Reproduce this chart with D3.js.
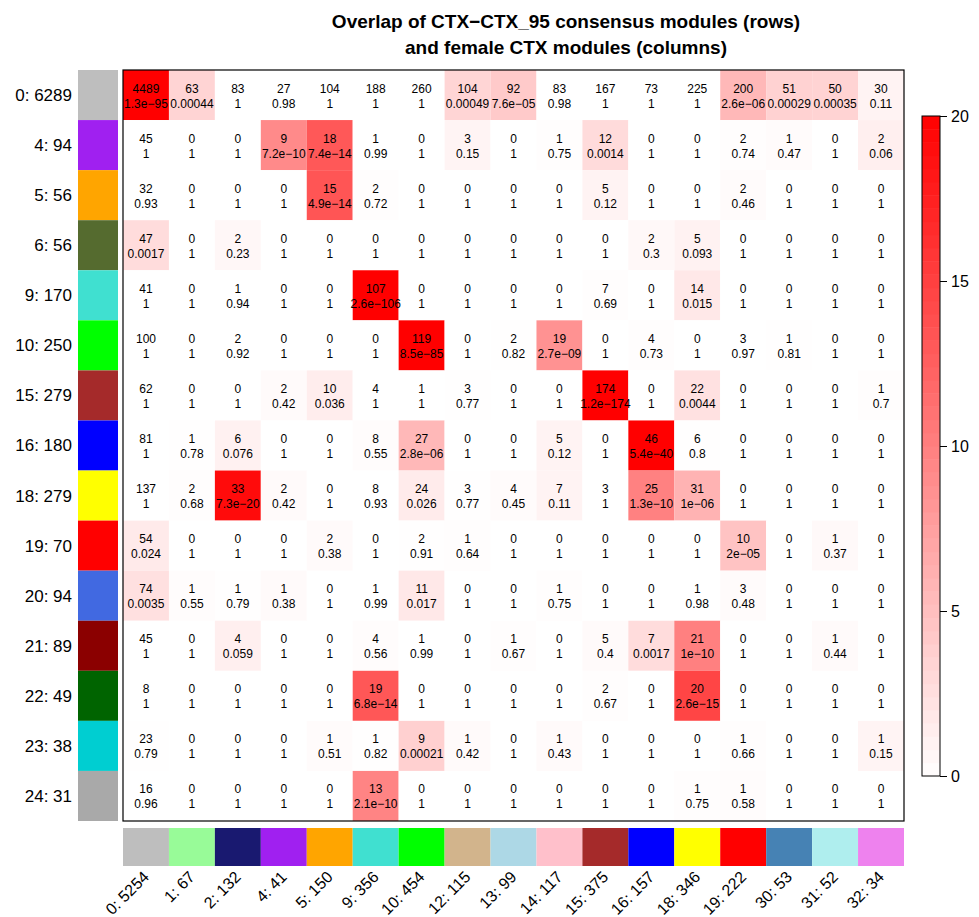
<!DOCTYPE html>
<html>
<head>
<meta charset="utf-8">
<script src="https://cdn.jsdelivr.net/npm/d3@7"></script>
<style>
  html, body { margin: 0; padding: 0; background: #fff; }
  svg { display: block; font-family: "Liberation Sans", Arial, sans-serif; }
</style>
</head>
<body>
<svg id="chart" width="979" height="917"></svg>
<script>
// Consensus modules (rows) and female CTX modules (columns)
const rowLabels = ["0: 6289", "4: 94", "5: 56", "6: 56", "9: 170", "10: 250", "15: 279", "16: 180",
  "18: 279", "19: 70", "20: 94", "21: 89", "22: 49", "23: 38", "24: 31"];
const rowColors = ["#BEBEBE", "#A020F0", "#FFA500", "#556B2F", "#40E0D0", "#00FF00", "#A52A2A", "#0000FF",
  "#FFFF00", "#FF0000", "#4169E1", "#8B0000", "#006400", "#00CED1", "#A9A9A9"];

const colLabels = ["0: 5254", "1: 67", "2: 132", "4: 41", "5: 150", "9: 356", "10: 454", "12: 115",
  "13: 99", "14: 117", "15: 375", "16: 157", "18: 346", "19: 222", "30: 53", "31: 52", "32: 34"];
const colColors = ["#BEBEBE", "#98FB98", "#191970", "#A020F0", "#FFA500", "#40E0D0", "#00FF00", "#D2B48C",
  "#ADD8E6", "#FFC0CB", "#A52A2A", "#0000FF", "#FFFF00", "#FF0000", "#4682B4", "#AFEEEE", "#EE82EE"];

// Overlap counts
const counts = [
  [4489, 63, 83, 27, 104, 188, 260, 104, 92, 83, 167, 73, 225, 200, 51, 50, 30],
  [45, 0, 0, 9, 18, 1, 0, 3, 0, 1, 12, 0, 0, 2, 1, 0, 2],
  [32, 0, 0, 0, 15, 2, 0, 0, 0, 0, 5, 0, 0, 2, 0, 0, 0],
  [47, 0, 2, 0, 0, 0, 0, 0, 0, 0, 0, 2, 5, 0, 0, 0, 0],
  [41, 0, 1, 0, 0, 107, 0, 0, 0, 0, 7, 0, 14, 0, 0, 0, 0],
  [100, 0, 2, 0, 0, 0, 119, 0, 2, 19, 0, 4, 0, 3, 1, 0, 0],
  [62, 0, 0, 2, 10, 4, 1, 3, 0, 0, 174, 0, 22, 0, 0, 0, 1],
  [81, 1, 6, 0, 0, 8, 27, 0, 0, 5, 0, 46, 6, 0, 0, 0, 0],
  [137, 2, 33, 2, 0, 8, 24, 3, 4, 7, 3, 25, 31, 0, 0, 0, 0],
  [54, 0, 0, 0, 2, 0, 2, 1, 0, 0, 0, 0, 0, 10, 0, 1, 0],
  [74, 1, 1, 1, 0, 1, 11, 0, 0, 1, 0, 0, 1, 3, 0, 0, 0],
  [45, 0, 4, 0, 0, 4, 1, 0, 1, 0, 5, 7, 21, 0, 0, 1, 0],
  [8, 0, 0, 0, 0, 19, 0, 0, 0, 0, 2, 0, 20, 0, 0, 0, 0],
  [23, 0, 0, 0, 1, 1, 9, 1, 0, 1, 0, 0, 0, 1, 0, 0, 1],
  [16, 0, 0, 0, 0, 13, 0, 0, 0, 0, 0, 0, 1, 1, 0, 0, 0]
];

// Fisher exact test p-values
const pValues = [
  [1.3e-95, 0.00044, 1, 0.98, 1, 1, 1, 0.00049, 7.6e-05, 0.98, 1, 1, 1, 2.6e-06, 0.00029, 0.00035, 0.11],
  [1, 1, 1, 7.2e-10, 7.4e-14, 0.99, 1, 0.15, 1, 0.75, 0.0014, 1, 1, 0.74, 0.47, 1, 0.06],
  [0.93, 1, 1, 1, 4.9e-14, 0.72, 1, 1, 1, 1, 0.12, 1, 1, 0.46, 1, 1, 1],
  [0.0017, 1, 0.23, 1, 1, 1, 1, 1, 1, 1, 1, 0.3, 0.093, 1, 1, 1, 1],
  [1, 1, 0.94, 1, 1, 2.6e-106, 1, 1, 1, 1, 0.69, 1, 0.015, 1, 1, 1, 1],
  [1, 1, 0.92, 1, 1, 1, 8.5e-85, 1, 0.82, 2.7e-09, 1, 0.73, 1, 0.97, 0.81, 1, 1],
  [1, 1, 1, 0.42, 0.036, 1, 1, 0.77, 1, 1, 1.2e-174, 1, 0.0044, 1, 1, 1, 0.7],
  [1, 0.78, 0.076, 1, 1, 0.55, 2.8e-06, 1, 1, 0.12, 1, 5.4e-40, 0.8, 1, 1, 1, 1],
  [1, 0.68, 7.3e-20, 0.42, 1, 0.93, 0.026, 0.77, 0.45, 0.11, 1, 1.3e-10, 1e-06, 1, 1, 1, 1],
  [0.024, 1, 1, 1, 0.38, 1, 0.91, 0.64, 1, 1, 1, 1, 1, 2e-05, 1, 0.37, 1],
  [0.0035, 0.55, 0.79, 0.38, 1, 0.99, 0.017, 1, 1, 0.75, 1, 1, 0.98, 0.48, 1, 1, 1],
  [1, 1, 0.059, 1, 1, 0.56, 0.99, 1, 0.67, 1, 0.4, 0.0017, 1e-10, 1, 1, 0.44, 1],
  [1, 1, 1, 1, 1, 6.8e-14, 1, 1, 1, 1, 0.67, 1, 2.6e-15, 1, 1, 1, 1],
  [0.79, 1, 1, 1, 0.51, 0.82, 0.00021, 0.42, 1, 0.43, 1, 1, 1, 0.66, 1, 1, 0.15],
  [0.96, 1, 1, 1, 1, 2.1e-10, 1, 1, 1, 1, 1, 1, 0.75, 0.58, 1, 1, 1]
];

const legendTicks = [0, 5, 10, 15, 20];
const title = ["Overlap of CTX\u2212CTX_95 consensus modules (rows)", "and female CTX modules (columns)"];

// ---- layout ----
const svg = d3.select("#chart");
const plot = { left: 123, right: 904, top: 70, bottom: 821 };
const MAXV = 20;

const x = d3.scaleBand().domain(d3.range(colLabels.length)).range([plot.left, plot.right]);
const y = d3.scaleBand().domain(d3.range(rowLabels.length)).range([plot.top, plot.bottom]);
const colour = d3.scaleLinear().domain([0, MAXV]).range(["#FFFFFF", "#FF0000"]).clamp(true);
const score = p => Math.max(0, Math.min(MAXV, -Math.log10(p)));

// 2-significant-digit formatting: fixed notation unless scientific is shorter
function fmtP(p) {
  let sci = p.toExponential(1);
  let [m, e] = sci.split("e");
  m = m.replace(/\.0$/, "");
  const sign = e[0] === "-" ? "\u2212" : "+";
  let ed = e.slice(1);
  if (ed.length < 2) ed = "0" + ed;
  sci = m + "e" + sign + ed;
  const digits = Math.max(0, 1 - Math.floor(Math.log10(Math.abs(p))));
  if (digits > 20) return sci;
  let fixed = Number(p.toPrecision(2)).toFixed(digits);
  if (fixed.indexOf(".") >= 0) fixed = fixed.replace(/0+$/, "").replace(/\.$/, "");
  return fixed.length <= sci.length ? fixed : sci;
}

// ---- title ----
svg.append("g").selectAll("text").data(title).join("text")
  .attr("x", 566).attr("y", (d, i) => 28 + i * 26)
  .attr("text-anchor", "middle")
  .attr("font-size", 19).attr("font-weight", "bold")
  .text(d => d);

// ---- heatmap cells ----
const cells = [];
counts.forEach((row, i) => row.forEach((c, j) => cells.push({ i, j, c, p: pValues[i][j] })));

const gCells = svg.append("g");
gCells.selectAll("rect").data(cells).join("rect")
  .attr("x", d => x(d.j)).attr("y", d => y(d.i))
  .attr("width", x.bandwidth()).attr("height", y.bandwidth())
  .attr("fill", d => colour(score(d.p)));

const gText = svg.append("g").attr("font-size", 12).attr("text-anchor", "middle");
gText.selectAll("text.count").data(cells).join("text").attr("class", "count")
  .attr("x", d => x(d.j) + x.bandwidth() / 2)
  .attr("y", d => y(d.i) + y.bandwidth() / 2 - 2.5)
  .text(d => d.c);
gText.selectAll("text.pval").data(cells).join("text").attr("class", "pval")
  .attr("x", d => x(d.j) + x.bandwidth() / 2)
  .attr("y", d => y(d.i) + y.bandwidth() / 2 + 12.5)
  .text(d => fmtP(d.p));

svg.append("rect")
  .attr("x", plot.left).attr("y", plot.top)
  .attr("width", plot.right - plot.left).attr("height", plot.bottom - plot.top)
  .attr("fill", "none").attr("stroke", "#000").attr("stroke-width", 1.2);

// ---- row colour bars and labels ----
svg.append("g").selectAll("rect").data(rowColors).join("rect")
  .attr("x", 78).attr("width", 40)
  .attr("y", (d, i) => y(i)).attr("height", y.bandwidth())
  .attr("fill", d => d);
svg.append("g").selectAll("text").data(rowLabels).join("text")
  .attr("x", 72).attr("y", (d, i) => y(i) + y.bandwidth() / 2)
  .attr("dy", "0.35em").attr("text-anchor", "end").attr("font-size", 17)
  .text(d => d);

// ---- column colour bars and labels ----
svg.append("g").selectAll("rect").data(colColors).join("rect")
  .attr("x", (d, j) => x(j)).attr("width", x.bandwidth())
  .attr("y", 828).attr("height", 38)
  .attr("fill", d => d);
svg.append("g").selectAll("text").data(colLabels).join("text")
  .attr("transform", (d, j) => `translate(${x(j) + x.bandwidth() / 2 + 4},${878}) rotate(-45)`)
  .attr("text-anchor", "end").attr("font-size", 16)
  .text(d => d);

// ---- colour legend ----
const leg = { x: 922, w: 18, top: 116, bottom: 776 };
const ly = d3.scaleLinear().domain([0, MAXV]).range([leg.bottom, leg.top]);
const steps = d3.range(0, MAXV, MAXV / 50);
svg.append("g").selectAll("rect").data(steps).join("rect")
  .attr("x", leg.x).attr("width", leg.w)
  .attr("y", d => ly(d + MAXV / 50)).attr("height", d => ly(d) - ly(d + MAXV / 50) + 0.5)
  .attr("fill", d => colour(d + MAXV / 100));
svg.append("rect")
  .attr("x", leg.x).attr("y", leg.top).attr("width", leg.w).attr("height", leg.bottom - leg.top)
  .attr("fill", "none").attr("stroke", "#000").attr("stroke-width", 1);
const legAxis = svg.append("g")
  .attr("transform", `translate(${leg.x + leg.w},0)`)
  .call(d3.axisRight(ly).tickValues(legendTicks).tickSize(7).tickPadding(4));
legAxis.select(".domain").remove();
legAxis.selectAll("text").attr("font-size", 16).attr("font-family", "Liberation Sans, Arial, sans-serif").attr("fill", "#000");
legAxis.selectAll("line").attr("stroke", "#000");
</script>
</body>
</html>
